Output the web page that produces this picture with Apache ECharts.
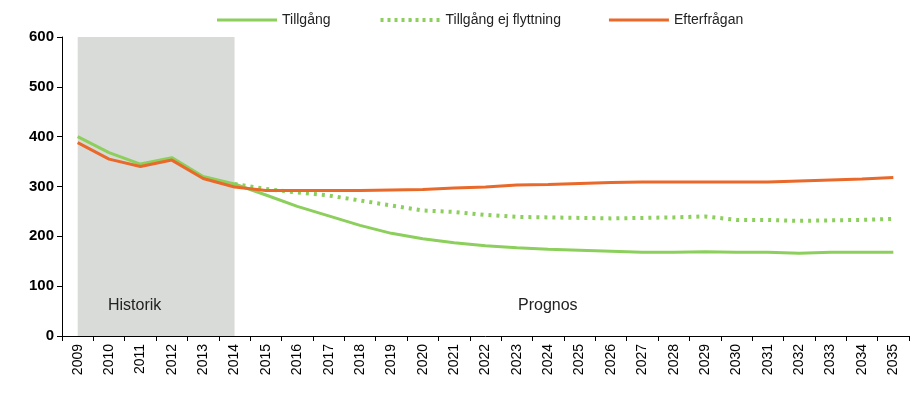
<!DOCTYPE html>
<html><head><meta charset="utf-8">
<script src="https://cdn.jsdelivr.net/npm/echarts@6/dist/echarts.min.js"></script>
<style>html,body{margin:0;padding:0;background:#fff}#main{width:921px;height:413px}</style>
</head><body><div id="main"></div>
<script>
var years = [];
for (var y = 2009; y <= 2035; y++) years.push(String(y));
var tillgang = [400,368,345,358,320,305,283,260,241,222,206,195,187,181,177,174,172,170,168,168,169,168,168,166,168,168,168];
var ejFlytt = [null,null,null,null,null,305,295,288,282,272,262,252,249,243,239,238,237,236,237,238,240,233,233,231,232,233,235];
var efterfragan = [388,355,340,353,316,299,292,292,292,292,293,294,297,299,303,304,306,308,309,309,309,309,309,311,313,315,318];
var green = '#8ccf5c', orange = '#e8692a';
var chart = echarts.init(document.getElementById('main'));
chart.setOption({
    animation: false,
    textStyle: { fontFamily: 'Liberation Sans' },
    legend: {
        top: 8, left: 212, itemGap: 48, itemWidth: 60, itemHeight: 3,
        textStyle: { fontSize: 14, color: '#222' },
        data: [
            { name: 'Tillgång', icon: 'rect' },
            { name: 'Tillgång ej flyttning', itemStyle: { color: green }, lineStyle: { type: [3, 4], width: 4 } },
            { name: 'Efterfrågan', icon: 'rect' }
        ]
    },
    grid: { left: 62, right: 12, top: 37, bottom: 77 },
    xAxis: {
        type: 'category', data: years, boundaryGap: true,
        axisLine: { lineStyle: { color: '#000' } },
        axisTick: { show: true, interval: 0, lineStyle: { color: '#000' } },
        axisLabel: { rotate: 90, interval: 0, color: '#000', fontSize: 14 }
    },
    yAxis: {
        type: 'value', min: 0, max: 600, interval: 100,
        axisLine: { show: true, lineStyle: { color: '#000' } },
        axisTick: { show: true, lineStyle: { color: '#000' } },
        splitLine: { show: false },
        axisLabel: { color: '#000', fontSize: 15, fontWeight: 'bold' }
    },
    graphic: [
        { type: 'text', z: 100, left: 108, top: 298, style: { text: 'Historik', fontSize: 16, fill: '#222', fontFamily: 'Liberation Sans' } },
        { type: 'text', z: 100, left: 518, top: 298, style: { text: 'Prognos', fontSize: 16, fill: '#222', fontFamily: 'Liberation Sans' } }
    ],
    series: [
        {
            name: 'Tillgång ej flyttning', type: 'line', data: ejFlytt, symbol: 'none',
            itemStyle: { color: green },
            lineStyle: { color: green, width: 4, type: [3, 5] },
            markArea: {
                silent: true, itemStyle: { color: '#d9dbd8' },
                data: [[{ xAxis: '2009' }, { xAxis: '2014' }]]
            }
        },
        {
            name: 'Tillgång', type: 'line', data: tillgang, symbol: 'none',
            itemStyle: { color: green }, lineStyle: { color: green, width: 3 }
        },
        {
            name: 'Efterfrågan', type: 'line', data: efterfragan, symbol: 'none',
            itemStyle: { color: orange }, lineStyle: { color: orange, width: 3 }
        }
    ]
});
</script>
</body></html>
